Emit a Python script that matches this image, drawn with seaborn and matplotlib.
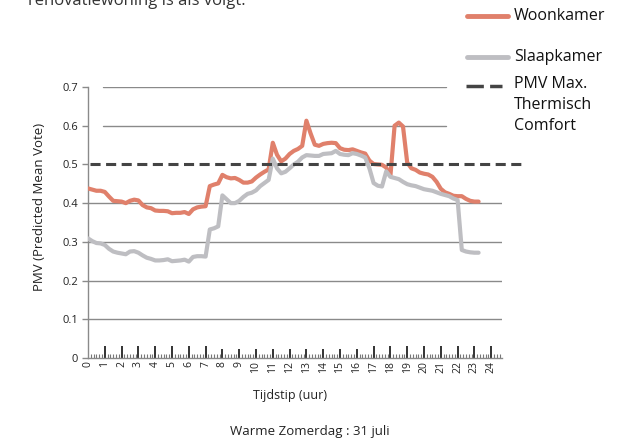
import numpy as np
import pandas as pd
import matplotlib
matplotlib.use("Agg")
import matplotlib.pyplot as plt
from matplotlib.lines import Line2D
import seaborn as sns

# tijdstip in uren, elk kwartier
uur = [i * 0.25 for i in range(94)]

woonkamer = [
    0.438, 0.435, 0.432, 0.432, 0.429, 0.417, 0.406, 0.405, 0.404, 0.400,
    0.406, 0.409, 0.407, 0.395, 0.389, 0.387, 0.381, 0.380, 0.380, 0.379,
    0.374, 0.375, 0.375, 0.377, 0.372, 0.384, 0.389, 0.391, 0.392, 0.444,
    0.448, 0.451, 0.473, 0.467, 0.464, 0.465, 0.460, 0.453, 0.453, 0.456,
    0.466, 0.474, 0.481, 0.487, 0.556, 0.525, 0.508, 0.515, 0.527, 0.535,
    0.540, 0.548, 0.613, 0.580, 0.551, 0.548, 0.553, 0.555, 0.556, 0.555,
    0.542, 0.538, 0.537, 0.539, 0.535, 0.531, 0.528, 0.510, 0.501, 0.500,
    0.499, 0.492, 0.470, 0.600, 0.608, 0.598, 0.505, 0.490, 0.486, 0.479,
    0.476, 0.474, 0.468, 0.455, 0.437, 0.428, 0.424, 0.419, 0.418, 0.418,
    0.411, 0.406, 0.404, 0.404,
]

slaapkamer = [
    0.309, 0.302, 0.297, 0.296, 0.292, 0.282, 0.275, 0.272, 0.270, 0.268,
    0.275, 0.276, 0.272, 0.265, 0.259, 0.256, 0.252, 0.252, 0.253, 0.255,
    0.250, 0.251, 0.252, 0.254, 0.249, 0.261, 0.263, 0.263, 0.262, 0.332,
    0.335, 0.340, 0.420, 0.410, 0.400, 0.400, 0.406, 0.416, 0.424, 0.427,
    0.433, 0.444, 0.452, 0.460, 0.515, 0.490, 0.477, 0.481, 0.490, 0.500,
    0.507, 0.518, 0.524, 0.523, 0.522, 0.522, 0.527, 0.528, 0.529, 0.535,
    0.527, 0.525, 0.524, 0.529, 0.527, 0.523, 0.518, 0.490, 0.452, 0.445,
    0.443, 0.482, 0.468, 0.465, 0.462, 0.455, 0.449, 0.446, 0.444, 0.440,
    0.436, 0.434, 0.432, 0.428, 0.424, 0.421, 0.418, 0.412, 0.408, 0.279,
    0.275, 0.273, 0.272, 0.272,
]

pmv_max = 0.5
x_labels = [str(h) for h in range(25)]
y_ticks = [0, 0.1, 0.2, 0.3, 0.4, 0.5, 0.6, 0.7]
y_labels = ["0", "0.1", "0.2", "0.3", "0.4", "0.5", "0.6", "0.7"]

kleur_woon = "#E0806B"
kleur_slaap = "#BEBEC2"
kleur_dash = "#444444"

sns.set_style("white")
plt.rcParams["font.family"] = ["Open Sans", "DejaVu Sans"]

df = pd.DataFrame({
    "uur": uur * 2,
    "PMV": woonkamer + slaapkamer,
    "ruimte": ["Woonkamer"] * len(uur) + ["Slaapkamer"] * len(uur),
})

fig = plt.figure(figsize=(6.24, 4.43), dpi=100)
ax = fig.add_axes([88 / 624, 1 - 358 / 443, 414 / 624, 271 / 443])

# rasterlijnen (bovenste deels afgedekt in origineel)
for v in [0.1, 0.2, 0.3, 0.4]:
    ax.axhline(v, color="#8a8a8a", lw=1, zorder=0)
for v in [0.6, 0.7]:
    ax.axhline(v, xmin=15 / 414, xmax=358 / 414, color="#8a8a8a", lw=1, zorder=0)

sns.lineplot(data=df, x="uur", y="PMV", hue="ruimte",
             palette={"Woonkamer": kleur_woon, "Slaapkamer": kleur_slaap},
             lw=3, legend=False, ax=ax, zorder=3)

ax.axhline(pmv_max, xmin=2 / 414, xmax=434 / 414, color=kleur_dash, lw=2.2,
           dashes=(3.3, 1.8), clip_on=False, zorder=4)

ax.set_xlim(0, 414 / 16.8)
ax.set_ylim(0, 0.7)
ax.set_xlabel("")
ax.set_ylabel("")

ax.set_yticks(y_ticks)
ax.set_yticklabels(y_labels, fontsize=8, color="#222222")
ax.tick_params(axis="y", direction="out", length=4, width=1, color="#8a8a8a", pad=3, left=True)

ax.set_xticks(range(25))
ax.set_xticklabels(x_labels, rotation=90, fontsize=7.5, color="#222222")
ax.set_xticks(np.arange(0, 24.6, 1 / 6), minor=True)
ax.tick_params(axis="x", which="major", direction="in", length=9, width=1.2,
               color="#111111", pad=2, bottom=True)
ax.tick_params(axis="x", which="minor", direction="in", length=3, width=0.8,
               color="#777777", bottom=True)
for i, t in enumerate(ax.xaxis.get_major_ticks()):
    if i == 0:
        t.tick1line.set_markersize(0)
    elif 8 <= i <= 16:
        t.tick1line.set_markersize(6.5)
        t.tick1line.set_color("#8a8a8a")

for s in ["top", "right"]:
    ax.spines[s].set_visible(False)
for s in ["left", "bottom"]:
    ax.spines[s].set_color("#8a8a8a")
    ax.spines[s].set_linewidth(1)

fig.text(40 / 624, 1 - 207 / 443, "PMV (Predicted Mean Vote)", rotation=90,
         ha="center", va="center", fontsize=9.5, color="#222222")
fig.text(290 / 624, 1 - 395 / 443, "Tijdstip (uur)", ha="center", va="center",
         fontsize=9, color="#222222")
fig.text(310 / 624, 1 - 432 / 443, "Warme Zomerdag : 31 juli", ha="center",
         va="center", fontsize=9.5, color="#222222")
fig.text(28 / 624, 1 - 5 / 443, "renovatiewoning is als volgt.", ha="left",
         va="baseline", fontsize=12, color="#333333")

# legenda
fig.add_artist(Line2D([467 / 624, 508 / 624], [1 - 16 / 443] * 2, color=kleur_woon, lw=3.5))
fig.add_artist(Line2D([467 / 624, 508 / 624], [1 - 57 / 443] * 2, color=kleur_slaap, lw=3.5))
fig.add_artist(Line2D([466 / 624, 502 / 624], [1 - 86 / 443] * 2, color=kleur_dash, lw=2.5,
                      dashes=(5, 1.8)))
fig.text(514 / 624, 1 - 16 / 443, "Woonkamer", va="center", fontsize=11.5, color="#111111")
fig.text(514 / 624, 1 - 57 / 443, "Slaapkamer", va="center", fontsize=11.5, color="#111111")
fig.text(514 / 624, 1 - 76 / 443, "PMV Max.\nThermisch\nComfort", va="top",
         fontsize=11.5, color="#111111", linespacing=1.4)

fig.savefig("out.png", dpi=100)
